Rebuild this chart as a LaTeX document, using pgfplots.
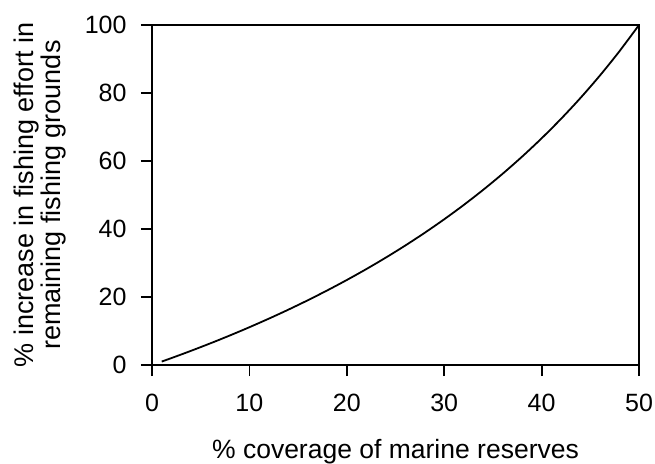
\documentclass[border=0pt]{standalone}
\usepackage{pgfplots}
\pgfplotsset{compat=1.18}
\usepackage{fontspec}
\setmainfont{Liberation Sans}
\begin{document}
\begin{tikzpicture}
\begin{axis}[
  scale only axis,
  width=487pt, height=340pt,
  xmin=0, xmax=50, ymin=0, ymax=100,
  xtick={0,10,20,30,40,50},
  ytick={0,20,40,60,80,100},
  axis line style={line width=1.8pt},
  tick style={line width=1.8pt, black},
  tick align=outside,
  major tick length=11pt,
  xtick pos=bottom, ytick pos=left,
  /pgf/number format/assume math mode=true,
  tick label style={font=\fontsize{25}{29}\selectfont},
  xticklabel style={yshift=-15pt},
  yticklabel style={xshift=-11pt},
  xlabel={\% coverage of marine reserves},
  xlabel style={font=\fontsize{26.5}{29}\selectfont, yshift=-20pt},
  ylabel={\% increase in fishing effort in\\remaining fishing grounds},
  ylabel style={font=\fontsize{27}{27}\selectfont, align=center, yshift=12pt},
]
\addplot[line width=1.8pt, black, smooth] coordinates {
(1,1.0101)(2,2.0408)(3,3.0928)(4,4.1667)(5,5.2632)(6,6.3830)(7,7.5269)(8,8.6957)(9,9.8901)(10,11.1111)
(12,13.6364)(14,16.2791)(16,19.0476)(18,21.9512)(20,25.0000)(22,28.2051)(24,31.5789)(26,35.1351)(28,38.8889)(30,42.8571)
(32,47.0588)(34,51.5152)(36,56.2500)(38,61.2903)(40,66.6667)(42,72.4138)(44,78.5714)(46,85.1852)(48,92.3077)(50,100)
};
\end{axis}
\pgfresetboundingbox
\path (current axis.south west) ++(-152pt,-98pt) rectangle ([shift={(16pt,25pt)}]current axis.north east);
\end{tikzpicture}
\end{document}
